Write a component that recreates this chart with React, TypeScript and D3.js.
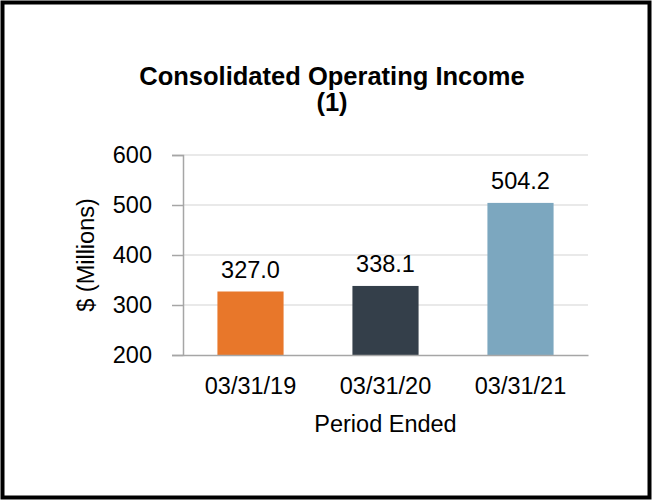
import React, { useEffect, useRef } from 'react';
import * as d3 from 'd3';

const periods = ['03/31/19', '03/31/20', '03/31/21'];
const incomeValues = [327.0, 338.1, 504.2];
const barColors = ['#E8772A', '#343F4A', '#7CA7BF'];
const yTicks = [200, 300, 400, 500, 600];

const W = 652;
const H = 500;

const App = () => {
  const svgRef = useRef<SVGSVGElement>(null);

  useEffect(() => {
    const svg = d3.select(svgRef.current);
    svg.selectAll('*').remove();

    const font = 'Liberation Sans, Arial, sans-serif';
    const fs = 23.5;
    const left = 183, right = 588, top = 155, bottom = 355;

    const x = d3.scaleBand<string>()
      .domain(periods)
      .range([left, right])
      .paddingInner(0.51)
      .paddingOuter(0.255);

    const y = d3.scaleLinear().domain([200, 600]).range([bottom, top]);

    // frame
    svg.append('rect')
      .attr('x', 0).attr('y', 0).attr('width', W).attr('height', H)
      .attr('fill', '#fff');
    svg.append('rect')
      .attr('x', 2.5).attr('y', 2.5).attr('width', W - 5).attr('height', H - 5)
      .attr('fill', 'none').attr('stroke', '#000').attr('stroke-width', 4);

    // title
    const title = svg.append('text')
      .attr('text-anchor', 'middle')
      .attr('font-family', font)
      .attr('font-weight', 'bold')
      .attr('font-size', 25.5)
      .attr('fill', '#000');
    title.append('tspan').attr('x', 332).attr('y', 85).text('Consolidated Operating Income');
    title.append('tspan').attr('x', 332).attr('y', 111).text('(1)');

    // gridlines
    svg.append('g')
      .selectAll('line')
      .data(yTicks.slice(1))
      .enter().append('line')
      .attr('x1', left).attr('x2', right)
      .attr('y1', d => y(d)).attr('y2', d => y(d))
      .attr('stroke', '#E2E2E2').attr('stroke-width', 1.5);

    // y axis
    const yAxis = d3.axisLeft(y).tickValues(yTicks).tickSize(11).tickPadding(20);
    const gy = svg.append('g')
      .attr('transform', `translate(${left},0)`)
      .call(yAxis);
    gy.select('.domain').attr('stroke', '#A6A6A6').attr('stroke-width', 1.5);
    gy.selectAll('.tick line').attr('stroke', '#A6A6A6').attr('stroke-width', 1.5);
    gy.selectAll('.tick text')
      .attr('font-family', font).attr('font-size', fs).attr('fill', '#000');

    // bars
    svg.selectAll('.bar')
      .data(incomeValues)
      .enter().append('rect')
      .attr('class', 'bar')
      .attr('x', (d, i) => x(periods[i]) as number)
      .attr('width', x.bandwidth())
      .attr('y', d => y(d))
      .attr('height', d => bottom - y(d))
      .attr('fill', (d, i) => barColors[i]);

    // value labels
    svg.selectAll('.val')
      .data(incomeValues)
      .enter().append('text')
      .attr('class', 'val')
      .attr('x', (d, i) => (x(periods[i]) as number) + x.bandwidth() / 2)
      .attr('y', d => y(d) - 14)
      .attr('text-anchor', 'middle')
      .attr('font-family', font).attr('font-size', fs).attr('fill', '#000')
      .text(d => d.toFixed(1));

    // x axis
    const xAxis = d3.axisBottom(x).tickSize(0).tickPadding(22);
    const gx = svg.append('g')
      .attr('transform', `translate(0,${bottom})`)
      .call(xAxis);
    gx.select('.domain').attr('stroke', '#A6A6A6').attr('stroke-width', 1.5);
    gx.selectAll('.tick text')
      .attr('font-family', font).attr('font-size', fs).attr('fill', '#000');

    // axis titles
    svg.append('text')
      .attr('x', 385.5).attr('y', 432)
      .attr('text-anchor', 'middle')
      .attr('font-family', font).attr('font-size', fs).attr('fill', '#000')
      .text('Period Ended');

    svg.append('text')
      .attr('transform', `translate(94,${(top + bottom) / 2}) rotate(-90)`)
      .attr('text-anchor', 'middle')
      .attr('font-family', font).attr('font-size', fs).attr('fill', '#000')
      .text('$ (Millions)');
  }, []);

  return (
    <svg
      ref={svgRef}
      width={W}
      height={H}
      style={{ position: 'absolute', left: 0, top: 0, display: 'block' }}
    />
  );
};

export default App;
